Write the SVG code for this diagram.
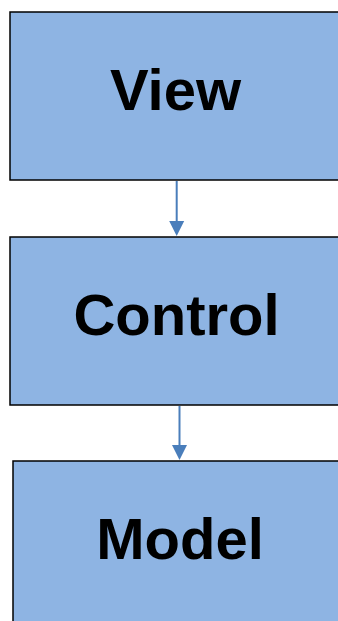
<svg xmlns="http://www.w3.org/2000/svg" width="338" height="621" viewBox="0 0 338 621">
<style>
.box{fill:#8EB4E3;stroke:#000;stroke-width:1.5}
.lbl{font-family:"Liberation Sans",Arial,sans-serif;font-weight:bold;font-size:58px;fill:#000;text-anchor:middle}
.conn{stroke:#4A7EBB;stroke-width:2;fill:none}
.head{fill:#4A7EBB}
</style>
<rect width="338" height="621" fill="#fff"/>
<g id="view"><rect class="box" x="10" y="12" width="340" height="168"/><text class="lbl" x="175.5" y="110">View</text></g>
<g id="control"><rect class="box" x="10" y="237" width="340" height="168"/><text class="lbl" x="176.5" y="335">Control</text></g>
<g id="model"><rect class="box" x="13" y="461" width="340" height="170"/><text class="lbl" x="180" y="559">Model</text></g>
<g id="connectors">
<line class="conn" x1="176.7" y1="181" x2="176.7" y2="222"/>
<polygon class="head" points="169.2,221 184.2,221 176.7,236"/>
<line class="conn" x1="179.5" y1="406" x2="179.5" y2="446"/>
<polygon class="head" points="172,445 187,445 179.5,460"/>
</g>
</svg>
